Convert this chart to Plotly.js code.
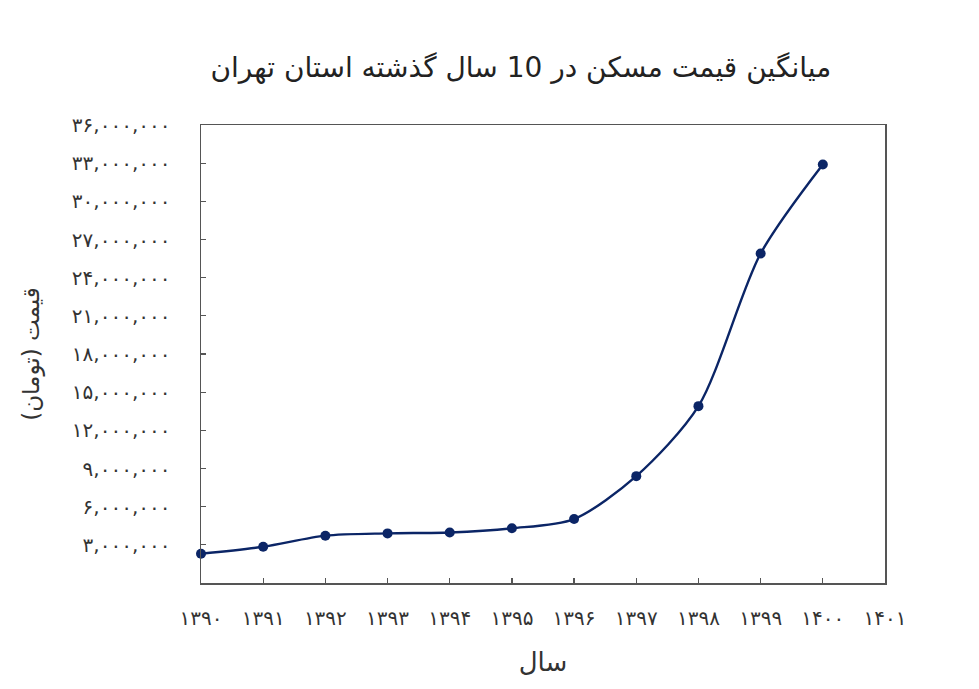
<!DOCTYPE html>
<html>
<head>
<meta charset="utf-8">
<script src="https://cdn.plot.ly/plotly-3.0.1.min.js"></script>
<style>html,body{margin:0;padding:0;background:#fff;}#chart{width:979px;height:689px;}</style>
</head>
<body>
<div id="chart"></div>
<script>
var years = [1390, 1391, 1392, 1393, 1394, 1395, 1396, 1397, 1398, 1399, 1400];
var prices = [2300000, 2850000, 3720000, 3900000, 3970000, 4300000, 5030000, 8400000, 13900000, 25900000, 32900000];

var xTickVals = [1390, 1391, 1392, 1393, 1394, 1395, 1396, 1397, 1398, 1399, 1400, 1401];
var xTickText = ['۱۳۹۰', '۱۳۹۱', '۱۳۹۲', '۱۳۹۳', '۱۳۹۴', '۱۳۹۵', '۱۳۹۶', '۱۳۹۷', '۱۳۹۸', '۱۳۹۹', '۱۴۰۰', '۱۴۰۱'];
var yTickVals = [3000000, 6000000, 9000000, 12000000, 15000000, 18000000, 21000000, 24000000, 27000000, 30000000, 33000000, 36000000];
var yTickText = ['۳,۰۰۰,۰۰۰', '۶,۰۰۰,۰۰۰', '۹,۰۰۰,۰۰۰', '۱۲,۰۰۰,۰۰۰', '۱۵,۰۰۰,۰۰۰', '۱۸,۰۰۰,۰۰۰', '۲۱,۰۰۰,۰۰۰', '۲۴,۰۰۰,۰۰۰', '۲۷,۰۰۰,۰۰۰', '۳۰,۰۰۰,۰۰۰', '۳۳,۰۰۰,۰۰۰', '۳۶,۰۰۰,۰۰۰'];

var titleText = 'میانگین قیمت مسکن در 10 سال گذشته استان تهران';
var xTitle = 'سال';
var yTitle = 'قیمت (تومان)';

var fontFam = '"DejaVu Sans", "Noto Sans", sans-serif';
var navy = '#0b2566';

var trace = {
  x: years, y: prices, type: 'scatter', mode: 'lines+markers',
  line: {color: navy, width: 2.4, shape: 'spline', smoothing: 0.8},
  marker: {color: navy, size: 10},
  cliponaxis: false,
  hoverinfo: 'skip'
};

var axisCommon = {
  showline: true, mirror: true, linecolor: '#555', linewidth: 1.5,
  showgrid: false, zeroline: false,
  ticks: 'inside', ticklen: 5, tickwidth: 1.2, tickcolor: '#555',
  tickfont: {family: fontFam, size: 20, color: '#333'}
};

var layout = {
  width: 979, height: 689,
  paper_bgcolor: '#fff', plot_bgcolor: '#fff',
  margin: {l: 201, r: 94, t: 125, b: 106},
  showlegend: false,
  title: {text: titleText, x: 0.532, xanchor: 'center', y: 0.902, yanchor: 'middle',
          font: {family: fontFam, size: 28, color: '#222'}},
  xaxis: Object.assign({}, axisCommon, {
    range: [1390, 1401], tickmode: 'array', tickvals: xTickVals, ticktext: xTickText,
    ticklabelstandoff: 16,
    title: {text: xTitle, font: {family: fontFam, size: 26, color: '#333'}, standoff: 24}
  }),
  yaxis: Object.assign({}, axisCommon, {
    range: [0, 36000000], tickmode: 'array', tickvals: yTickVals, ticktext: yTickText,
    ticklabelstandoff: 25,
    title: {text: yTitle, font: {family: fontFam, size: 23, color: '#333'}, standoff: 26}
  })
};

Plotly.newPlot('chart', [trace], layout, {displayModeBar: false, staticPlot: true});
</script>
</body>
</html>
